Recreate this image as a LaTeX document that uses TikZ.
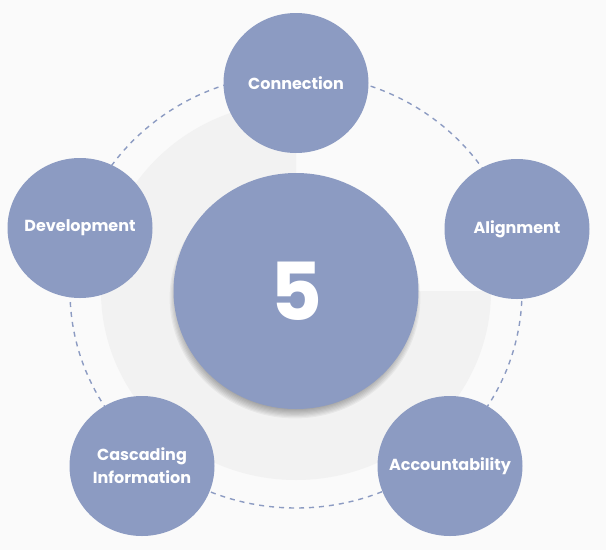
\documentclass[tikz,border=0pt]{standalone}
\usepackage{fontspec}
\setmainfont{Poppins}
\usetikzlibrary{shapes.geometric}
\definecolor{bgc}{HTML}{FAFAFA}
\definecolor{ringc}{HTML}{F2F2F2}
\definecolor{blobc}{HTML}{8C9BC2}
\newcommand{\zw}[1]{\makebox[0pt][c]{#1}}
\tikzset{
  sat/.style={ellipse, fill=blobc, minimum width=145pt, minimum height=140pt, inner sep=0pt,
    text=white, align=center, font=\fontsize{16}{23}\selectfont\bfseries},
  hub/.style={ellipse, fill=blobc, minimum width=245pt, minimum height=236pt, inner sep=0pt,
    text=white, font=\fontsize{80}{80}\selectfont\bfseries},
  shade/.style={fill=black, opacity=0.045},
  ringline/.style={draw=blobc, line width=1.4pt, dash pattern=on 5pt off 5pt}
}
\begin{document}
\begin{tikzpicture}[x=1pt,y=-1pt]
\useasboundingbox (0,0) rectangle (606,550);
\fill[bgc] (0,0) rectangle (606,550);
\fill[ringc] (296,291) -- ++(195,0) arc[start angle=0, end angle=270, x radius=195, y radius=189] -- cycle;
\draw[ringline] (296,291) ellipse [x radius=226, y radius=217];
\foreach \k in {0,...,12}
  \fill[shade] (295,298) ellipse [x radius=111+\k*1.2, y radius=106+\k*1.2];
\node[hub] (five) at (296,291) {5};
\node[sat] (conn) at (296,83) {\zw{Connection}};
\node[sat] (align) at (517,229) {\zw{Alignment}};
\node[sat] (acc) at (450,466) {\zw{Accountability}};
\node[sat] (casc) at (142,466) {\zw{Cascading}\\\zw{Information}};
\node[sat] (dev) at (80,228) {\zw{Development}};
\end{tikzpicture}
\end{document}
